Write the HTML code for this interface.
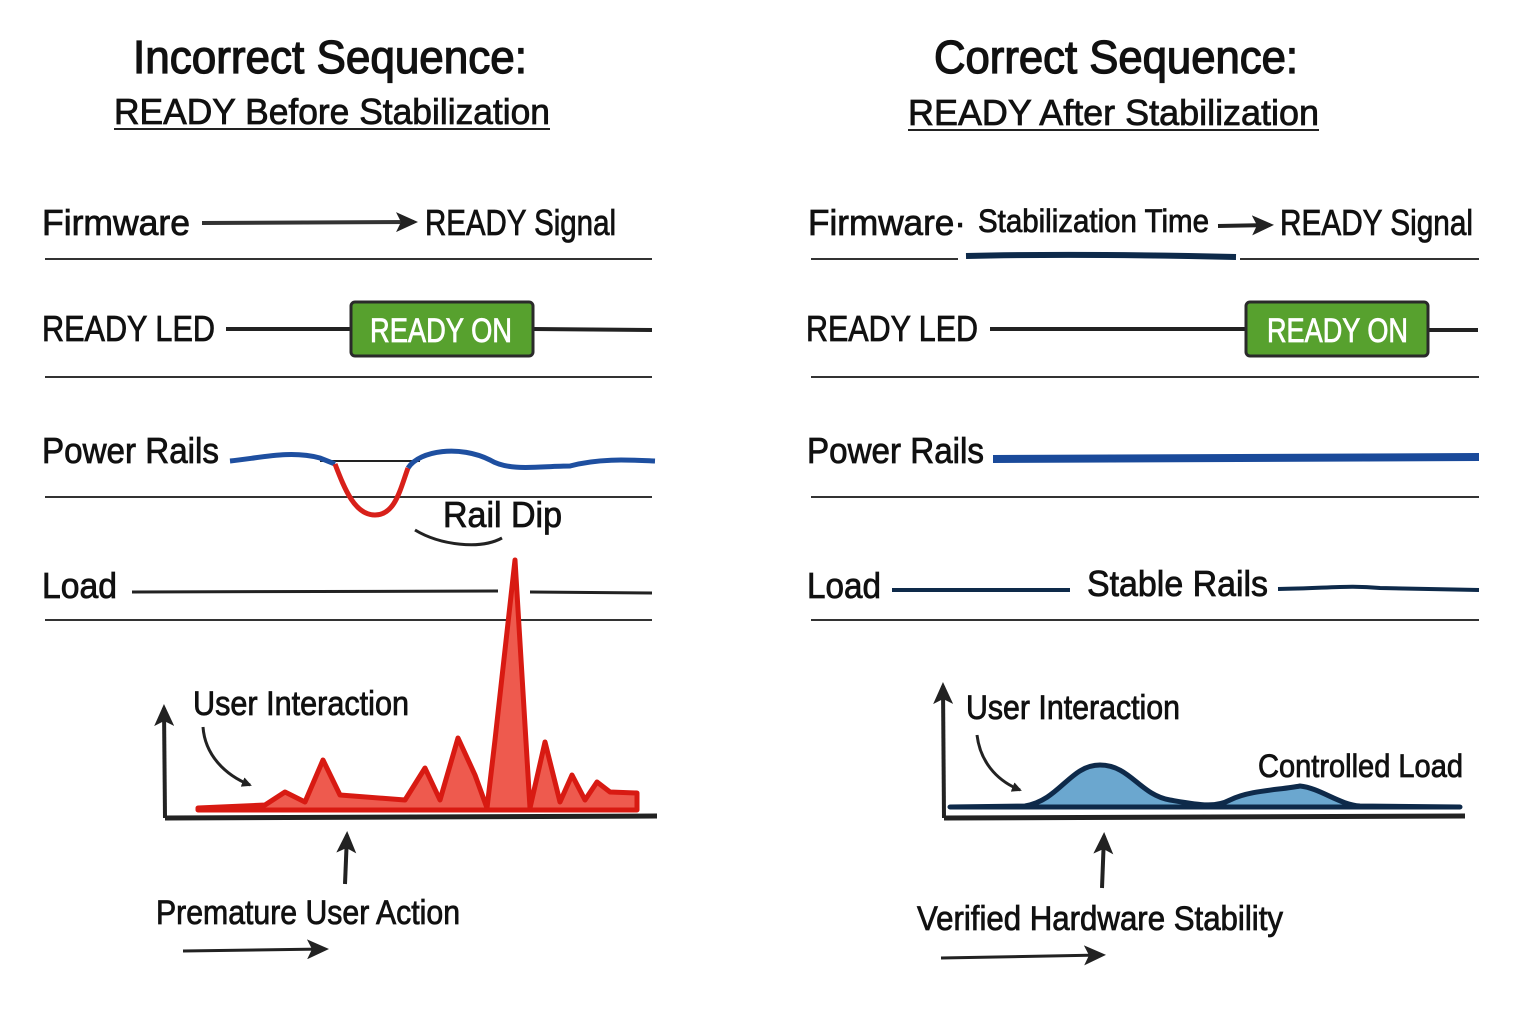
<!DOCTYPE html>
<html><head><meta charset="utf-8"><style>
html,body{margin:0;padding:0;background:#fff;}
svg{display:block}
text{font-family:"Liberation Sans Narrow","Liberation Sans",sans-serif;fill:#111;stroke:#111;stroke-width:0.8px;}
text.w{fill:#fff;stroke:#fff;}
</style></head><body>
<svg width="1536" height="1024" viewBox="0 0 1536 1024" xmlns="http://www.w3.org/2000/svg">
<defs>
<marker id="ah" markerWidth="10" markerHeight="10" refX="8" refY="5" orient="auto" markerUnits="userSpaceOnUse"><path d="M0,0 L10,5 L0,10 Z" fill="#222"/></marker>
<marker id="ahb" markerWidth="22" markerHeight="20" refX="18" refY="10" orient="auto" markerUnits="userSpaceOnUse"><path d="M0,0 L22,10 L0,20 L5,10 Z" fill="#222"/></marker>
</defs>
<text x="133" y="73" font-size="46" textLength="394" lengthAdjust="spacingAndGlyphs" style="stroke-width:1.3px">Incorrect Sequence:</text>
<text x="114" y="124" font-size="36" textLength="436" lengthAdjust="spacingAndGlyphs">READY Before Stabilization</text>
<line x1="114" y1="129" x2="550" y2="129" stroke="#222" stroke-width="2"/>
<text x="934" y="73" font-size="46" textLength="364" lengthAdjust="spacingAndGlyphs" style="stroke-width:1.3px">Correct Sequence:</text>
<text x="908" y="125" font-size="36" textLength="411" lengthAdjust="spacingAndGlyphs">READY After Stabilization</text>
<line x1="908" y1="130" x2="1319" y2="130" stroke="#222" stroke-width="2"/>

<g stroke="#333" stroke-width="2">
<line x1="45" y1="259" x2="652" y2="259"/><line x1="45" y1="377" x2="652" y2="377"/>
<line x1="45" y1="497" x2="652" y2="497"/><line x1="45" y1="620" x2="652" y2="620"/>
<line x1="811" y1="259" x2="958" y2="259"/><line x1="1240" y1="259" x2="1479" y2="259"/>
<line x1="811" y1="377" x2="1479" y2="377"/>
<line x1="811" y1="497" x2="1479" y2="497"/><line x1="811" y1="620" x2="1479" y2="620"/>
</g>

<text x="42" y="235" font-size="36" textLength="148" lengthAdjust="spacingAndGlyphs">Firmware</text>
<line x1="202" y1="223" x2="414" y2="222" stroke="#333" stroke-width="4" marker-end="url(#ahb)"/>
<text x="425" y="235" font-size="36" textLength="191" lengthAdjust="spacingAndGlyphs">READY Signal</text>
<text x="42" y="341" font-size="36" textLength="173" lengthAdjust="spacingAndGlyphs">READY LED</text>
<line x1="226" y1="329" x2="352" y2="329" stroke="#222" stroke-width="4"/>
<line x1="533" y1="329" x2="652" y2="330" stroke="#222" stroke-width="4"/>
<rect x="351" y="302" width="182" height="54" rx="4" fill="#57a12e" stroke="#2a2a2a" stroke-width="3"/>
<text class="w" x="370" y="342" font-size="34" textLength="142" lengthAdjust="spacingAndGlyphs">READY ON</text>
<text x="42" y="463" font-size="36" textLength="177" lengthAdjust="spacingAndGlyphs">Power Rails</text>
<line x1="320" y1="461" x2="420" y2="461" stroke="#222" stroke-width="2"/>
<path d="M230,461 C260,458 290,450 320,458 L335,464" stroke="#1e4fa0" stroke-width="5" fill="none"/>
<path d="M335,464 C345,490 355,515 375,515 C395,515 400,490 408,468" stroke="#d8201a" stroke-width="5" fill="none"/>
<path d="M408,468 C420,450 460,445 490,460 C510,472 540,466 570,466 C600,458 630,460 655,461" stroke="#1e4fa0" stroke-width="5" fill="none"/>
<text x="443" y="527" font-size="36" textLength="119" lengthAdjust="spacingAndGlyphs">Rail Dip</text>
<path d="M415,530 C440,545 480,550 502,538" stroke="#222" stroke-width="3" fill="none"/>
<text x="42" y="598" font-size="36" textLength="75" lengthAdjust="spacingAndGlyphs">Load</text>
<line x1="132" y1="592" x2="498" y2="591" stroke="#222" stroke-width="3"/>
<line x1="530" y1="592" x2="652" y2="593" stroke="#222" stroke-width="3"/>
<path d="M198,808 L265,805 L285,792 L305,802 L323,760 L340,795 L405,800 L425,768 L440,800 L458,738 L475,775 L487,808 L495,740 L515,560 L530,808 L545,742 L560,802 L572,775 L585,800 L597,782 L610,792 L637,793 L637,810 L198,810 Z" fill="#ee5a4e" stroke="#d81a12" stroke-width="5" stroke-linejoin="round"/>
<polyline points="165,818 657,816" stroke="#222" stroke-width="5" fill="none"/>
<line x1="165" y1="818" x2="164" y2="708" stroke="#222" stroke-width="4" marker-end="url(#ahb)"/>
<text x="193" y="715" font-size="34" textLength="216" lengthAdjust="spacingAndGlyphs">User Interaction</text>
<path d="M203,727 C205,755 225,775 250,785" stroke="#222" stroke-width="3" fill="none" marker-end="url(#ah)"/>
<line x1="345" y1="884" x2="347" y2="835" stroke="#222" stroke-width="4" marker-end="url(#ahb)"/>
<text x="156" y="924" font-size="34" textLength="304" lengthAdjust="spacingAndGlyphs">Premature User Action</text>
<line x1="183" y1="951" x2="325" y2="949" stroke="#222" stroke-width="3" marker-end="url(#ahb)"/>

<text x="808" y="235" font-size="36" textLength="158" lengthAdjust="spacingAndGlyphs">Firmware·</text>
<text x="978" y="232" font-size="32" textLength="231" lengthAdjust="spacingAndGlyphs">Stabilization Time</text>
<line x1="1218" y1="226" x2="1270" y2="225" stroke="#222" stroke-width="4" marker-end="url(#ahb)"/>
<text x="1280" y="235" font-size="36" textLength="193" lengthAdjust="spacingAndGlyphs">READY Signal</text>
<path d="M966,256 C1050,254 1150,255 1236,257" stroke="#0e2a4a" stroke-width="6" fill="none"/>
<text x="806" y="341" font-size="36" textLength="172" lengthAdjust="spacingAndGlyphs">READY LED</text>
<line x1="990" y1="329" x2="1248" y2="329" stroke="#222" stroke-width="4"/>
<line x1="1428" y1="330" x2="1478" y2="330" stroke="#222" stroke-width="4"/>
<rect x="1246" y="302" width="182" height="54" rx="4" fill="#57a12e" stroke="#2a2a2a" stroke-width="3"/>
<text class="w" x="1267" y="342" font-size="34" textLength="141" lengthAdjust="spacingAndGlyphs">READY ON</text>
<text x="807" y="463" font-size="36" textLength="177" lengthAdjust="spacingAndGlyphs">Power Rails</text>
<line x1="993" y1="459" x2="1479" y2="457" stroke="#1a4a9a" stroke-width="8"/>
<text x="807" y="598" font-size="36" textLength="74" lengthAdjust="spacingAndGlyphs">Load</text>
<line x1="892" y1="590" x2="1070" y2="590" stroke="#0e2a4a" stroke-width="4"/>
<text x="1087" y="596" font-size="36" textLength="181" lengthAdjust="spacingAndGlyphs">Stable Rails</text>
<path d="M1278,589 C1330,588 1350,585 1380,588 L1479,590" stroke="#0e2a4a" stroke-width="4" fill="none"/>
<path d="M950,807 L1025,806 C1060,800 1070,765 1100,765 C1130,765 1140,795 1170,800 C1200,805 1215,808 1230,800 C1250,790 1280,790 1300,786 C1320,788 1340,805 1360,806 L1460,807 Z" fill="#6ba7cf" stroke="#0e2a4a" stroke-width="5" stroke-linejoin="round"/>
<line x1="944" y1="818" x2="1465" y2="816" stroke="#222" stroke-width="5"/>
<line x1="944" y1="818" x2="943" y2="686" stroke="#222" stroke-width="4" marker-end="url(#ahb)"/>
<text x="966" y="719" font-size="34" textLength="214" lengthAdjust="spacingAndGlyphs">User Interaction</text>
<path d="M977,735 C980,760 995,780 1020,790" stroke="#222" stroke-width="3" fill="none" marker-end="url(#ah)"/>
<text x="1258" y="777" font-size="32" textLength="205" lengthAdjust="spacingAndGlyphs">Controlled Load</text>
<line x1="1102" y1="888" x2="1104" y2="836" stroke="#222" stroke-width="4" marker-end="url(#ahb)"/>
<text x="917" y="930" font-size="34" textLength="366" lengthAdjust="spacingAndGlyphs">Verified Hardware Stability</text>
<line x1="941" y1="958" x2="1102" y2="955" stroke="#222" stroke-width="3" marker-end="url(#ahb)"/>
</svg>
</body></html>
